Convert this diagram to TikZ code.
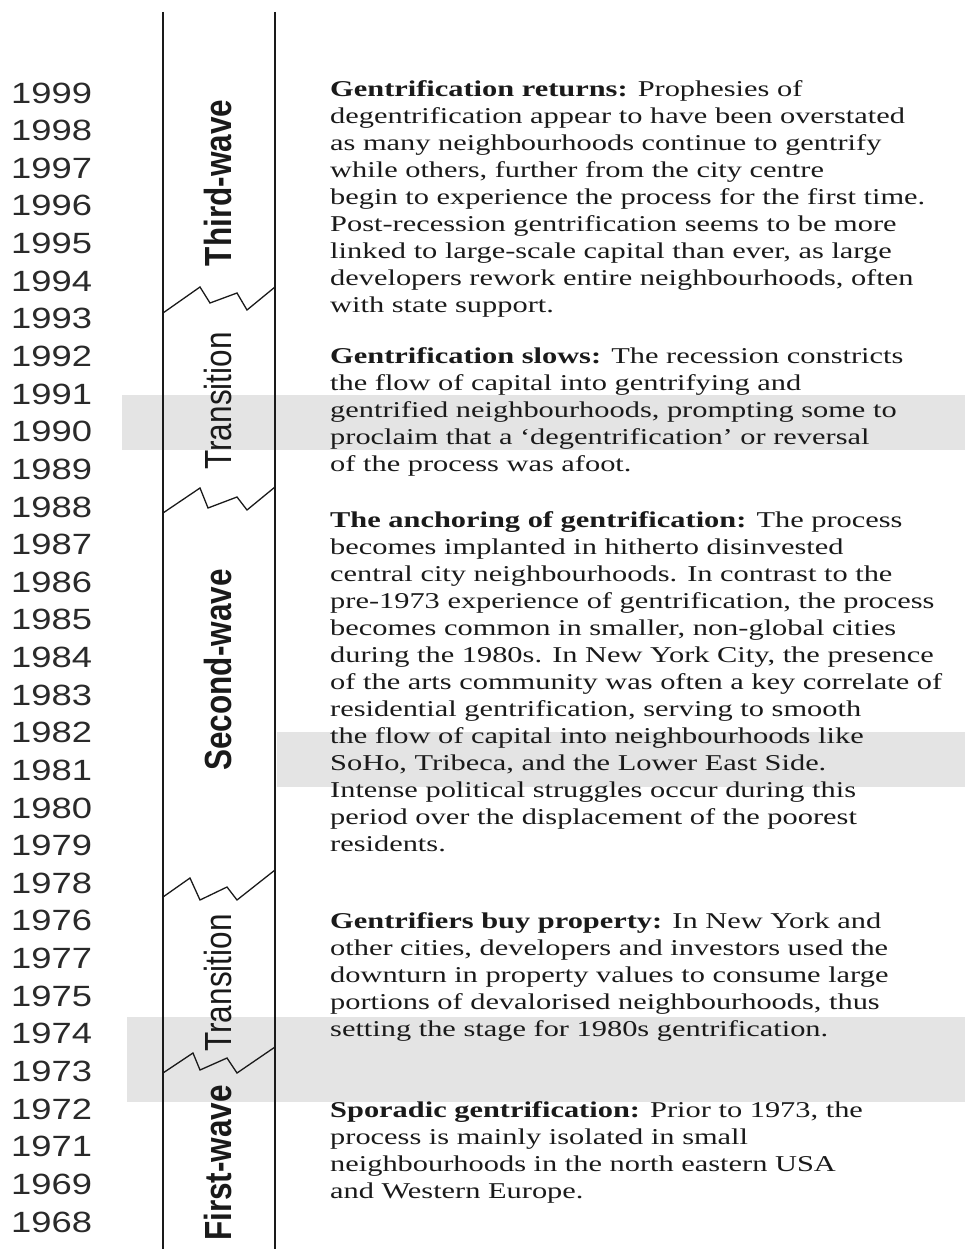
\documentclass[tikz,border=0pt]{standalone}
\usepackage{fontspec}
\setmainfont[FakeStretch=1.345]{Liberation Serif}
\newfontfamily\yearfont[FakeStretch=1.24]{Liberation Sans}
\newfontfamily\wavefont{Liberation Sans}
\definecolor{bandgrey}{HTML}{E4E4E4}
\definecolor{ink}{HTML}{1A1A1A}
\definecolor{yearink}{HTML}{2A2A2A}
\tikzset{
  yearlab/.style={font=\yearfont\fontsize{29.3}{30}\selectfont, text=yearink, inner sep=0pt, anchor=west},
  wavelab/.style={font=\wavefont\fontsize{31.5}{32}\selectfont, text=ink, inner sep=0pt, rotate=90},
  bodytext/.style={font=\fontsize{22.6}{27}\selectfont, text=ink, inner sep=0pt, align=left, anchor=north west},
  rail/.style={line width=2pt, draw=ink},
  zig/.style={line width=1.3pt, draw=ink, line join=miter},
  greyband/.style={fill=bandgrey, draw=none}
}
\begin{document}
\begin{tikzpicture}[x=1pt,y=-1pt]
\useasboundingbox (0,0) rectangle (965,1249);
% grey bands
\fill[greyband] (122,395) rectangle (965,450);
\fill[greyband] (277,732) rectangle (965,787);
\fill[greyband] (127,1017) rectangle (965,1102);
% rails
\coordinate (lt) at (163,12); \coordinate (lb) at (163,1249);
\coordinate (rt) at (275,12); \coordinate (rb) at (275,1249);
\draw[rail] (lt) -- (lb);
\draw[rail] (rt) -- (rb);
% zigzag breaks
\draw[zig] (163,313) -- (200,287) -- (210,303) -- (237,293) -- (247,310) -- (275,287);
\draw[zig] (163,513) -- (200,488) -- (208,508) -- (237,497) -- (247,510) -- (275,487);
\draw[zig] (163,897) -- (190,878) -- (200,900) -- (227,887) -- (237,900) -- (275,870);
\draw[zig] (163,1073) -- (193,1053) -- (200,1070) -- (227,1058) -- (237,1073) -- (275,1047);
% years
\foreach \yr [count=\i from 0] in {1999,1998,1997,1996,1995,1994,1993,1992,1991,1990,1989,1988,1987,1986,1985,1984,1983,1982,1981,1980,1979,1978,1976,1977,1975,1974,1973,1972,1971,1969,1968}
  \node[yearlab] (y\i) at (11,{93+\i*37.63}) {\yr};
% wave labels
\node[wavelab] (third) at (218,183) {\scalebox{1}[1.2]{\bfseries Third-wave}};
\node[wavelab] (trans1) at (218,401) {\scalebox{1}[1.2]{Transition}};
\node[wavelab] (second) at (218,670) {\scalebox{1}[1.2]{\bfseries Second-wave}};
\node[wavelab] (trans2) at (218,983) {\scalebox{1}[1.2]{Transition}};
\node[wavelab] (first) at (218,1163) {\scalebox{1}[1.2]{\bfseries First-wave}};
% text blocks
\node[bodytext] (b1) at (330,77.6) {\strut\textbf{Gentrification returns:} Prophesies of\\
degentrification appear to have been overstated\\
as many neighbourhoods continue to gentrify\\
while others, further from the city centre\\
begin to experience the process for the first time.\\
Post-recession gentrification seems to be more\\
linked to large-scale capital than ever, as large\\
developers rework entire neighbourhoods, often\\
with state support.};
\node[bodytext] (b2) at (330,344) {\strut\textbf{Gentrification slows:} The recession constricts\\
the flow of capital into gentrifying and\\
gentrified neighbourhoods, prompting some to\\
proclaim that a ‘degentrification’ or reversal\\
of the process was afoot.};
\node[bodytext] (b3) at (330,508) {\strut\textbf{The anchoring of gentrification:} The process\\
becomes implanted in hitherto disinvested\\
central city neighbourhoods. In contrast to the\\
pre-1973 experience of gentrification, the process\\
becomes common in smaller, non-global cities\\
during the 1980s. In New York City, the presence\\
of the arts community was often a key correlate of\\
residential gentrification, serving to smooth\\
the flow of capital into neighbourhoods like\\
SoHo, Tribeca, and the Lower East Side.\\
Intense political struggles occur during this\\
period over the displacement of the poorest\\
residents.};
\node[bodytext] (b4) at (330,909) {\strut\textbf{Gentrifiers buy property:} In New York and\\
other cities, developers and investors used the\\
downturn in property values to consume large\\
portions of devalorised neighbourhoods, thus\\
setting the stage for 1980s gentrification.};
\node[bodytext] (b5) at (330,1098) {\strut\textbf{Sporadic gentrification:} Prior to 1973, the\\
process is mainly isolated in small\\
neighbourhoods in the north eastern USA\\
and Western Europe.};
\end{tikzpicture}
\end{document}
